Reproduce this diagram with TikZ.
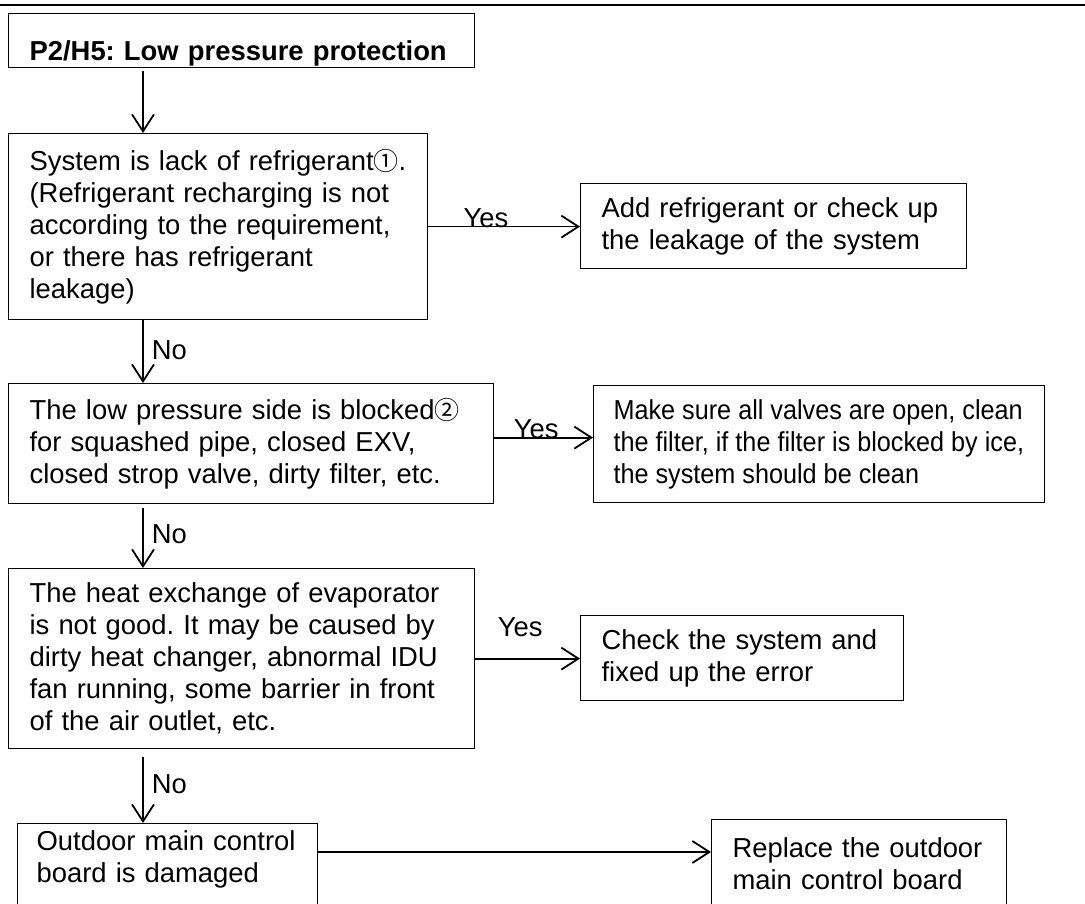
\documentclass[tikz,border=0pt]{standalone}
\usepackage{fontspec}
\setmainfont{Liberation Sans}
\newfontfamily\narrowfont{Liberation Sans}[FakeStretch=0.92]
\newfontfamily\circfont{Noto Sans CJK SC}
\usetikzlibrary{arrows.meta}
\frenchspacing
\newcommand{\bodyfont}{\fontsize{27.4}{32}\selectfont}
\newcommand{\cnum}[1]{{\circfont\fontsize{25}{32}\selectfont #1}}

\begin{document}
\begin{tikzpicture}[x=1pt,y=-1pt,>={Straight Barb[length=17pt,width=22pt]},
  box/.style={draw,line width=1.2pt,anchor=north west,align=left,font=\bodyfont,inner xsep=21pt,inner ysep=0pt},
  lbl/.style={font=\bodyfont,inner sep=0pt},
  flow/.style={->,line width=1.8pt}]
\useasboundingbox (0,0) rectangle (1085,904);
\clip (0,0) rectangle (1085,904);
\draw[line width=2.5pt](0,5)--(1085,5);
% left column
\node[box,text width=424pt,inner ysep=7pt,text height=40pt,text depth=0pt,font=\bodyfont\bfseries](title)at(8,13){P2/H5: Low pressure protection};
\node[box,text width=377pt,minimum height=186pt](sys)at(8,133){System is lack of refrigerant\cnum{①}.\\(Refrigerant recharging is not\\according to the requirement,\\or there has refrigerant\\leakage)};
\node[box,text width=443pt,minimum height=120pt](block)at(8,383){The low pressure side is blocked\cnum{②}\\for squashed pipe, closed EXV,\\closed strop valve, dirty filter, etc.};
\node[box,text width=424pt,minimum height=180pt](heat)at(8,568){The heat exchange of evaporator\\is not good. It may be caused by\\dirty heat changer, abnormal IDU\\fan running, some barrier in front\\of the air outlet, etc.};
\node[box,text width=262pt,inner xsep=19pt,inner ysep=7pt,text depth=80pt](board)at(17,823){Outdoor main control\\board is damaged};
% right column
\node[box,text width=344pt,minimum height=85pt](addref)at(580,183){Add refrigerant or check up\\the leakage of the system};
\node[box,inner xsep=20pt,minimum height=117pt,font=\narrowfont\bodyfont](valves)at(593,385){Make sure all valves are open, clean\\the filter, if the filter is blocked by ice,\\the system should be clean};
\node[box,text width=281pt,minimum height=85pt](checksys)at(580,615){Check the system and\\fixed up the error};
\node[box,text width=253pt,inner ysep=18pt,text depth=80pt](replace)at(711,819){Replace the outdoor\\main control board};
% arrows
\coordinate(col)at(143,0);
\draw[flow,shorten <=3pt](title.south -| col)--(sys.north -| col);
\draw[flow](sys.south -| col)--node[lbl,right=8pt,pos=.47]{No}(block.north -| col);
\draw[flow,shorten <=4pt](block.south -| col)--node[lbl,right=8pt,pos=.47]{No}(heat.north -| col);
\draw[flow,shorten <=8pt](heat.south -| col)--node[lbl,right=8pt,pos=.47]{No}(board.north -| col);
\draw[flow](sys.east)--node[lbl,above=-2pt,pos=.38]{Yes}(sys.east -| addref.west);
\draw[flow]([yshift=6pt]block.east)--node[lbl,above=-2pt,pos=.425]{Yes}([yshift=6pt]block.east -| valves.west);
\draw[flow](heat.east)--node[lbl,above=21pt,pos=.43]{Yes}(heat.east -| checksys.west);
\draw[flow]([yshift=-29pt]board.north east)--([yshift=-29pt]board.north east -| replace.west);
\end{tikzpicture}
\end{document}
